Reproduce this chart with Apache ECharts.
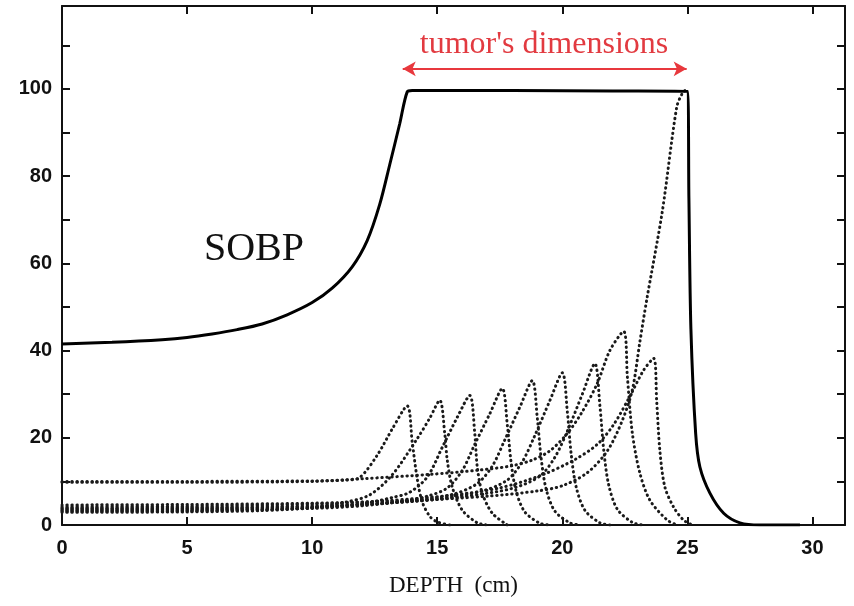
<!DOCTYPE html>
<html>
<head>
<meta charset="utf-8">
<title>SOBP</title>
<script src="https://cdn.jsdelivr.net/npm/echarts@6/dist/echarts.min.js"></script>
<style>
  html, body { margin: 0; padding: 0; background: #fff; }
  #chart { width: 854px; height: 606px; }
</style>
</head>
<body>
<div id="chart"></div>
<script>
// depth (cm), dose (%)
const sobp = [[0,41.5],[2,41.9],[4,42.5],[5,43],[6,43.8],[7,44.8],[8,46.1],[9,48.2],[10,51],[10.8,54.3],[11.6,59.2],[12.2,65.2],[12.7,73.5],[13.1,82.6],[13.5,92],[13.8,99.3],[14,99.6],[18,99.6],[22,99.5],[25,99.4],[25.06,75],[25.14,45],[25.33,21],[25.5,13.3],[25.9,7.3],[26.45,2.7],[27.1,0.5],[27.9,0],[29.5,0]];

// pristine Bragg peaks (dotted)
const peak1 = [[0,10],[5,10],[10,10.1],[11.3,10.3],[11.9,10.9],[12.6,16],[13.2,22],[13.8,27.3],[14,19],[14.2,10.6],[14.4,5.3],[14.7,2],[15,0.7],[15.5,0]];
const peak2 = [[0,2.9],[5,3],[8,3.3],[10,4],[11.3,5.2],[12.3,6.9],[13.2,11.5],[14.2,19.8],[14.7,24.5],[15.1,28.6],[15.3,21],[15.4,14.9],[15.6,8.7],[16,3.4],[16.6,0.5],[17,0]];
const peak3 = [[0,3.1],[5,3.2],[8,3.5],[10,3.9],[12,4.9],[13.2,6.3],[13.9,7.5],[14.6,11],[15.2,17.8],[15.8,24.7],[16.3,29.7],[16.5,21],[16.6,13.3],[16.8,7.3],[17.2,2.7],[17.8,0]];
const peak4 = [[0,3.3],[5,3.4],[10,3.8],[12,4.4],[13.5,5.4],[14.6,6.6],[15.4,8.5],[16,12.5],[16.5,18.5],[17.1,25.5],[17.6,31.3],[17.8,23],[17.95,14.5],[18.15,7.8],[18.5,3],[19.1,0.4],[19.5,0]];
const peak5 = [[0,3.5],[5,3.6],[10,4],[12,4.6],[14,5.6],[15.6,7],[16.6,9.5],[17.2,13.5],[17.7,19.5],[18.3,27],[18.8,33.1],[19,24.5],[19.15,15.5],[19.35,8.3],[19.7,3.2],[20.3,0.5],[20.7,0]];
const peak6 = [[0,3.7],[5,3.8],[10,4.2],[13,5],[15,6],[16.8,7.8],[17.8,10.3],[18.4,14.5],[18.9,20.5],[19.5,28.5],[20,34.9],[20.2,26],[20.35,16.5],[20.55,8.8],[20.9,3.4],[21.5,0.5],[21.9,0]];
const peak7 = [[0,3.9],[5,4],[10,4.4],[14,5.4],[16,6.5],[18,8.4],[19.1,11.2],[19.7,15.5],[20.2,21.5],[20.8,30],[21.3,37],[21.5,27.5],[21.65,17.5],[21.85,9.3],[22.2,3.6],[22.8,0.6],[23.2,0]];
const peak8 = [[0,9.8],[5,9.8],[10,10],[12,10.6],[14.7,11.6],[16.7,12.6],[18,13.6],[18.8,14.9],[19.5,17],[20.2,21],[20.8,26],[21.4,32.5],[21.9,40],[22.45,44.4],[22.6,34],[22.8,21],[23.1,11.9],[23.5,5.7],[24.2,1.1],[24.6,0]];
const peak9 = [[0,4.2],[5,4.3],[10,4.8],[13,5.6],[15.5,6.8],[17.5,8.5],[19.2,11.5],[20.5,15],[21.4,18.5],[22.05,23],[22.7,29.5],[23.25,35.5],[23.65,38.2],[23.77,28.6],[23.9,17],[24.1,8.7],[24.45,4.1],[24.85,1.1],[25.2,0]];
const peak10 = [[0,4.6],[5,4.7],[10,5],[14,5.6],[17,6.6],[19,7.8],[20,9],[21,12],[21.8,17],[22.4,24],[22.8,31],[23.1,42],[23.37,51.5],[24,72],[24.57,95.7],[24.8,99],[25,100]];

const peaks = [peak1, peak2, peak3, peak4, peak5, peak6, peak7, peak8, peak9, peak10];

// tumor extent arrow
const tumorFrom = [13.62, 104.6];
const tumorTo = [24.97, 104.6];

const xTicks = { min: 0, max: 31.3, interval: 5 };
const yTicks = { min: 0, max: 119, interval: 10, labelStep: 20 };

const chart = echarts.init(document.getElementById('chart'));

const frameLine = { show: true, onZero: false, lineStyle: { color: '#111', width: 2 } };
const innerTick = { show: true, inside: true, length: 8, lineStyle: { color: '#111', width: 2 } };
const tickFont = { fontFamily: 'Liberation Sans', fontWeight: 'bold', fontSize: 20, color: '#111' };

const dotted = peaks.map(p => ({
  type: 'line',
  data: p,
  showSymbol: false,
  smooth: 0.3,
  silent: true,
  lineStyle: { color: '#1a1a1a', width: 3, type: [0.4, 4.6], cap: 'round' },
  z: 2
}));

chart.setOption({
  animation: false,
  backgroundColor: '#fff',
  grid: { left: 62, right: 9, top: 6, bottom: 81 },
  xAxis: [
    {
      type: 'value', position: 'bottom',
      min: xTicks.min, max: xTicks.max, interval: xTicks.interval,
      axisLine: frameLine, axisTick: innerTick, splitLine: { show: false },
      axisLabel: Object.assign({ margin: 13, formatter: v => (v % 5 === 0 ? String(v) : '') }, tickFont),
      name: 'DEPTH  (cm)', nameLocation: 'middle', nameGap: 49,
      nameTextStyle: { fontFamily: 'Liberation Serif', fontSize: 23, color: '#111' }
    },
    {
      type: 'value', position: 'top',
      min: xTicks.min, max: xTicks.max, interval: xTicks.interval,
      axisLine: frameLine, axisTick: innerTick, splitLine: { show: false },
      axisLabel: { show: false }
    }
  ],
  yAxis: [
    {
      type: 'value', position: 'left',
      min: yTicks.min, max: yTicks.max, interval: yTicks.interval,
      axisLine: frameLine, axisTick: innerTick, splitLine: { show: false },
      axisLabel: Object.assign({ margin: 10, formatter: v => (v % yTicks.labelStep === 0 ? String(v) : '') }, tickFont)
    },
    {
      type: 'value', position: 'right',
      min: yTicks.min, max: yTicks.max, interval: yTicks.interval,
      axisLine: frameLine, axisTick: innerTick, splitLine: { show: false },
      axisLabel: { show: false }
    }
  ],
  series: dotted.concat([
    {
      type: 'line',
      name: 'SOBP',
      data: sobp,
      showSymbol: false,
      smooth: 0.3,
      silent: true,
      lineStyle: { color: '#000', width: 3 },
      z: 3,
      markLine: {
        silent: true,
        symbol: ['arrow', 'arrow'],
        symbolSize: [11, 13],
        label: { show: false },
        lineStyle: { color: '#e8383d', width: 2, type: 'solid' },
        data: [[{ coord: tumorFrom }, { coord: tumorTo }]]
      }
    }
  ]),
  graphic: [
    {
      type: 'text', x: 544, y: 45,
      style: { text: "tumor's dimensions", fill: '#e23a40', font: '32px "Liberation Serif"', textAlign: 'center', textVerticalAlign: 'middle' }
    },
    {
      type: 'text', x: 254, y: 249,
      style: { text: 'SOBP', fill: '#111', font: '40px "Liberation Serif"', textAlign: 'center', textVerticalAlign: 'middle' }
    }
  ]
});
</script>
</body>
</html>
